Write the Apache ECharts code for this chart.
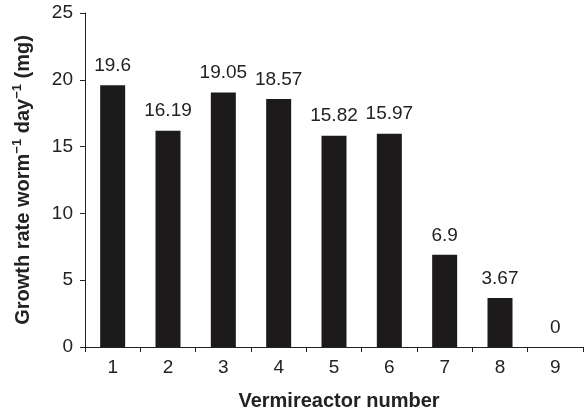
<!DOCTYPE html>
<html><head><meta charset="utf-8">
<script src="https://cdn.jsdelivr.net/npm/echarts@6/dist/echarts.min.js"></script>
<style>html,body{margin:0;padding:0;background:#fff}#c{width:584px;height:418px}</style>
</head><body><div id="c"></div>
<script>
var categories = ['1','2','3','4','5','6','7','8','9'];
var growthRate = [19.6, 16.19, 19.05, 18.57, 15.82, 15.97, 6.9, 3.67, 0];
var labelText = ['19.6','16.19','19.05','18.57','15.82','15.97','6.9','3.67','0'];
var yTicks = {min: 0, max: 25, interval: 5};

var font = 'Liberation Sans, Arial, Helvetica, sans-serif';
var chart = echarts.init(document.getElementById('c'), null, {renderer: 'canvas'});
chart.setOption({
  animation: false,
  backgroundColor: '#fff',
  grid: {left: 85, right: 1, top: 13, bottom: 71, containLabel: false},
  xAxis: {
    type: 'category', data: categories,
    axisLine: {lineStyle: {color: '#222', width: 1}},
    axisTick: {show: true, alignWithLabel: false, length: 5, lineStyle: {color: '#222'}},
    axisLabel: {color: '#222', fontSize: 19, fontFamily: font, margin: 11},
    name: 'Vermireactor number', nameLocation: 'middle', nameGap: 44,
    nameTextStyle: {color: '#222', fontSize: 20, fontWeight: 'bold', fontFamily: font, padding: [0,0,0,10]}
  },
  yAxis: {
    type: 'value', min: yTicks.min, max: yTicks.max, interval: yTicks.interval,
    splitLine: {show: false},
    axisLine: {show: true, lineStyle: {color: '#222', width: 1}},
    axisTick: {show: true, length: 5, lineStyle: {color: '#222'}},
    axisLabel: {color: '#222', fontSize: 19, fontFamily: font, margin: 12},
    name: '{a|Growth rate worm}{s|−1}{a| day}{s|−1}{a| (mg)}',
    nameLocation: 'middle', nameGap: 52, nameRotate: 90,
    nameTextStyle: {
      fontFamily: font,
      rich: {
        a: {color: '#222', fontSize: 20, fontWeight: 'bold', fontFamily: font, lineHeight: 22, verticalAlign: 'bottom'},
        s: {color: '#222', fontSize: 13, fontWeight: 'bold', fontFamily: font, lineHeight: 22, verticalAlign: 'top', padding: [0,0,7,0]}
      }
    }
  },
  series: [{
    type: 'bar', data: growthRate, barWidth: 25,
    itemStyle: {color: '#1c1a1b'},
    label: {show: true, position: 'top', distance: 10, color: '#222', fontSize: 19, fontFamily: font,
      formatter: function (p) { return labelText[p.dataIndex]; }}
  }]
});
</script></body></html>
